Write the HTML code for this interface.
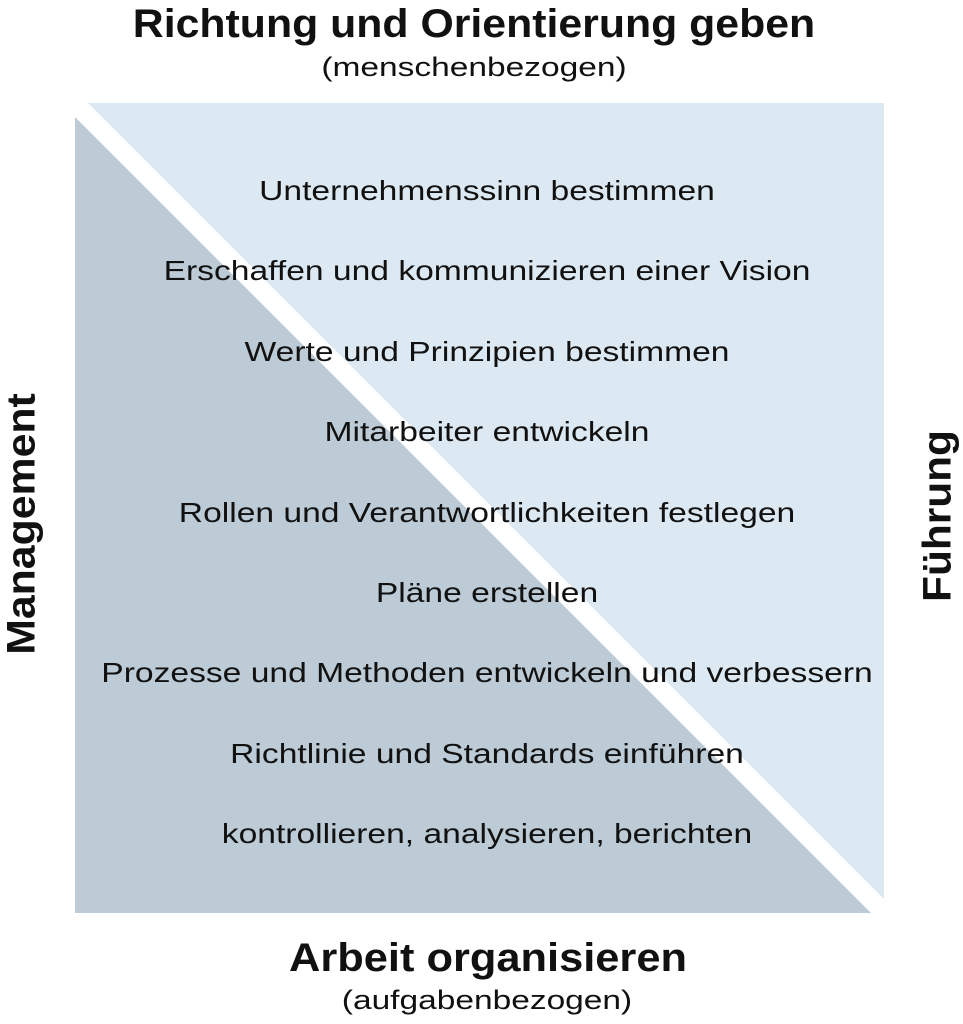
<!DOCTYPE html>
<html><head><meta charset="utf-8"><style>
body{margin:0;width:963px;height:1024px;background:#fff;font-family:"Liberation Sans",sans-serif;color:#111;position:relative;overflow:hidden}
.t{position:absolute;width:0;white-space:nowrap}
.t span{position:absolute;left:0;transform:translateX(-50%) scaleX(var(--s));display:inline-block}
</style></head><body>
<svg width="963" height="1024" style="position:absolute;left:0;top:0">
<polygon points="88,103 884,103 884,899" fill="#dde9f2"/>
<polygon points="75,117 75,913 871,913" fill="#bccbd5"/>
</svg>
<div class="t" style="left:474px;top:2px;font-size:40px;font-weight:bold"><span style="--s:1.07">Richtung und Orientierung geben</span></div>
<div class="t" style="left:474px;top:52px;font-size:27px"><span style="--s:1.24">(menschenbezogen)</span></div>
<div class="t" style="left:487px;top:175px;font-size:28px"><span style="--s:1.2">Unternehmenssinn bestimmen</span></div>
<div class="t" style="left:487px;top:255px;font-size:28px"><span style="--s:1.2">Erschaffen und kommunizieren einer Vision</span></div>
<div class="t" style="left:487px;top:336px;font-size:28px"><span style="--s:1.2">Werte und Prinzipien bestimmen</span></div>
<div class="t" style="left:487px;top:416px;font-size:28px"><span style="--s:1.2">Mitarbeiter entwickeln</span></div>
<div class="t" style="left:487px;top:497px;font-size:28px"><span style="--s:1.2">Rollen und Verantwortlichkeiten festlegen</span></div>
<div class="t" style="left:487px;top:577px;font-size:28px"><span style="--s:1.2">Pläne erstellen</span></div>
<div class="t" style="left:487px;top:657px;font-size:28px"><span style="--s:1.2">Prozesse und Methoden entwickeln und verbessern</span></div>
<div class="t" style="left:487px;top:738px;font-size:28px"><span style="--s:1.2">Richtlinie und Standards einführen</span></div>
<div class="t" style="left:487px;top:818px;font-size:28px"><span style="--s:1.2">kontrollieren, analysieren, berichten</span></div>
<div class="t" style="left:488px;top:936px;font-size:40px;font-weight:bold"><span style="--s:1.085">Arbeit organisieren</span></div>
<div class="t" style="left:487px;top:985px;font-size:27px"><span style="--s:1.24">(aufgabenbezogen)</span></div>
<div style="position:absolute;left:22px;top:524px;transform:translate(-50%,-50%) rotate(-90deg) scaleX(1.07);font-size:40px;font-weight:bold;white-space:nowrap">Management</div>
<div style="position:absolute;left:938px;top:516px;transform:translate(-50%,-50%) rotate(-90deg) scaleX(1.06);font-size:40px;font-weight:bold;white-space:nowrap">Führung</div>
</body></html>
